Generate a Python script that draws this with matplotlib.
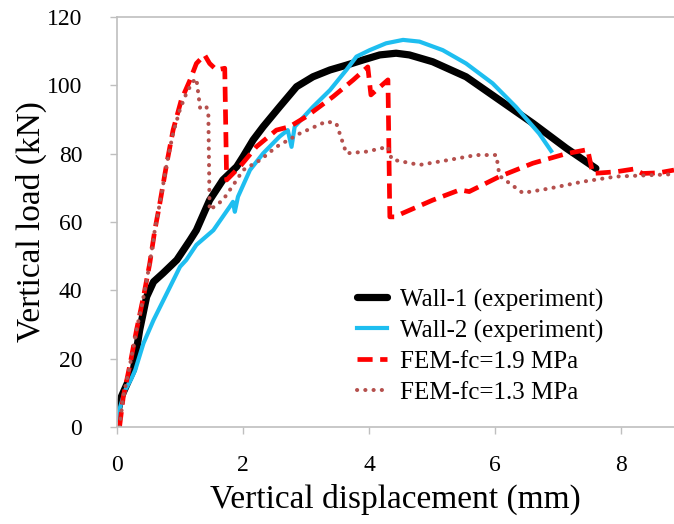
import numpy as np
import matplotlib
matplotlib.use('Agg')
import matplotlib.pyplot as plt

plt.rcParams['font.family'] = ['Liberation Serif', 'DejaVu Serif']

# Wall-1 (experiment)
w1_x = [0.0, 0.02, 0.07, 0.21, 0.26, 0.36, 0.47, 0.58, 0.73, 0.95, 1.16, 1.26, 1.47, 1.68,
        1.90, 2.0, 2.16, 2.32, 2.58, 2.85, 3.11, 3.38, 3.64, 3.90, 4.17, 4.43, 4.64, 5.01,
        5.54, 6.07, 6.60, 7.13, 7.60]
w1_y = [3.0, 5.0, 8.9, 14.7, 16.7, 28.4, 38.1, 42.5, 45.0, 48.9, 54.7, 57.6, 66.4, 72.3,
        76.2, 79.1, 84.0, 87.9, 93.7, 99.6, 102.5, 104.5, 105.9, 107.4, 108.9, 109.4, 108.9, 106.9,
        102.5, 95.7, 88.9, 81.6, 75.7]

# Wall-2 (experiment)
w2_x = [0.0, 0.02, 0.13, 0.23, 0.29, 0.42, 0.58, 0.79, 1.0, 1.10, 1.26, 1.53, 1.79, 1.84,
        1.87, 1.92, 2.11, 2.32, 2.58, 2.71, 2.77, 2.82, 3.11, 3.38, 3.64, 3.80, 4.01, 4.27,
        4.54, 4.80, 5.17, 5.54, 5.96, 6.33, 6.70, 6.89]
w2_y = [2.0, 4.0, 10.8, 14.2, 16.7, 24.5, 31.3, 39.1, 46.9, 48.9, 53.3, 57.6, 64.5, 65.9,
        63.0, 67.4, 75.2, 80.1, 85.0, 86.9, 82.0, 87.9, 93.7, 98.6, 104.5, 108.4, 110.3, 112.3,
        113.3, 112.8, 110.3, 106.4, 100.6, 93.7, 85.9, 80.8]

# FEM fc=1.9 MPa
f19_x = [0.04, 0.10, 0.21, 0.31, 0.42, 0.52, 0.60, 0.68, 0.79, 0.89, 1.02, 1.16, 1.26, 1.39,
         1.47, 1.58, 1.71, 1.74, 1.95, 2.21, 2.53, 2.74, 3.0, 3.43, 3.75, 3.98, 4.03, 4.30,
         4.33, 4.40, 5.01, 5.44, 5.59, 6.07, 6.60, 7.13, 7.47, 7.55, 7.92, 8.20, 8.34, 8.60, 8.84]
f19_y = [0.0, 8.9, 18.6, 28.4, 38.1, 47.9, 57.6, 65.5, 77.2, 86.9, 95.7, 101.6, 106.4, 108.9,
         106.4, 104.5, 105.0, 72.3, 76.2, 82.0, 86.9, 87.9, 90.8, 96.7, 101.6, 105.4, 97.2, 101.6,
         61.5, 61.5, 66.4, 69.4, 68.9, 73.3, 77.2, 80.0, 81.2, 74.2, 74.7, 75.5, 74.2, 74.4, 75.2]

# FEM fc=1.3 MPa
f13_x = [0.04, 0.10, 0.21, 0.31, 0.42, 0.52, 0.60, 0.68, 0.79, 0.89, 1.0, 1.10, 1.20, 1.26,
         1.32, 1.42, 1.45, 1.47, 1.68, 1.90, 2.0, 2.27, 2.53, 2.90, 3.32, 3.48, 3.64, 3.96,
         4.30, 4.36, 4.80, 5.28, 5.70, 6.02, 6.07, 6.44, 6.86, 7.39, 7.92, 8.45, 8.84]
f13_y = [0.0, 8.9, 18.6, 28.4, 38.0, 47.9, 57.6, 65.5, 77.0, 86.0, 93.0, 97.6, 101.0, 102.0,
         93.2, 93.7, 91.3, 63.5, 66.4, 72.3, 75.2, 78.1, 82.0, 85.9, 89.4, 88.9, 80.1, 80.6,
         82.0, 78.3, 76.7, 78.2, 79.6, 79.6, 73.5, 68.5, 69.8, 71.8, 73.3, 73.7, 74.0]

labels = ['Wall-1 (experiment)', 'Wall-2 (experiment)', 'FEM-fc=1.9 MPa', 'FEM-fc=1.3 MPa']

fig = plt.figure(figsize=(6.74, 5.24), dpi=100)
ax = fig.add_axes([117/674, 97/524, 1 - 117/674, 410/524])

ax.plot(w1_x, w1_y, color='black', lw=5.2, solid_capstyle='round', label=labels[0])
ax.plot(w2_x, w2_y, color='#1EBEF0', lw=3.0, label=labels[1])
ax.plot(f19_x, f19_y, color='#FF0000', lw=3.4, dashes=(3.2, 1.6), label=labels[2])
ax.plot(f13_x, f13_y, color='#B5504D', lw=2.9, dashes=(0.05, 2.0),
        dash_capstyle='round', label=labels[3])

ax.set_xlim(0, 8.84)
ax.set_ylim(0, 120)
ax.set_xticks([0, 2, 4, 6, 8])
ax.set_yticks(range(0, 121, 20))

for s in ['left', 'bottom', 'top']:
    ax.spines[s].set_color('#BFBFBF')
    ax.spines[s].set_linewidth(1.2)
ax.spines['right'].set_visible(False)
ax.tick_params(axis='both', direction='out', length=5, width=1.0, color='#BFBFBF',
               labelsize=17)
ax.tick_params(axis='y', pad=20)
ax.tick_params(axis='x', pad=15)

ax.set_xlabel('Vertical displacement (mm)', fontsize=24, labelpad=6)
ax.set_ylabel('Vertical load (kN)', fontsize=24, labelpad=0)

leg = ax.legend(loc='upper left', bbox_to_anchor=(0.431, 0.338), frameon=False,
                fontsize=18, handlelength=1.2, handletextpad=0.5, labelspacing=0.32,
                borderpad=0, borderaxespad=0)

fig.savefig('out.png', dpi=100)
